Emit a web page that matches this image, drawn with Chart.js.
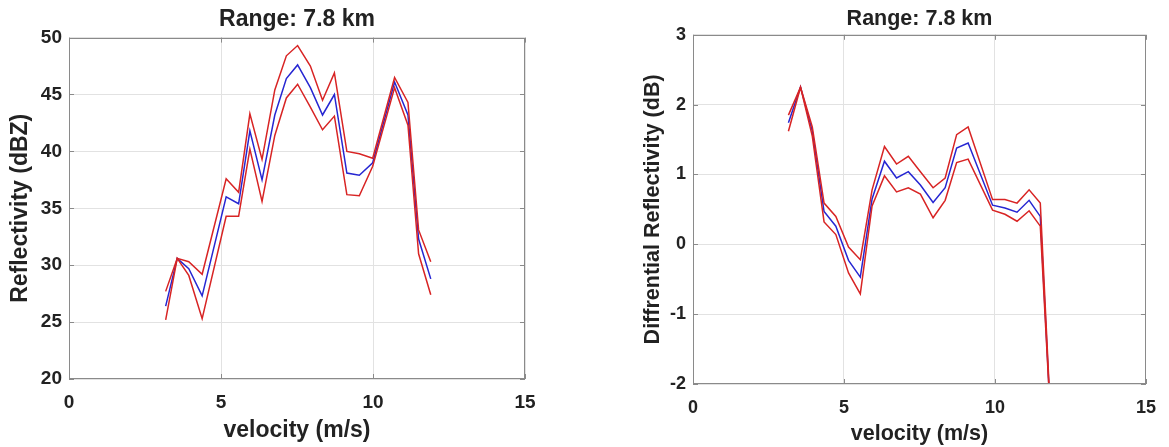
<!DOCTYPE html>
<html>
<head>
<meta charset="utf-8">
<script src="https://cdn.jsdelivr.net/npm/chart.js@4/dist/chart.umd.min.js"></script>
<style>
  body { margin: 0; background: #fff; }
  canvas { position: absolute; top: 0; }
</style>
</head>
<body>
<canvas id="zhChart" width="590" height="447" style="left:0"></canvas>
<canvas id="zdrChart" width="549" height="447" style="left:620px"></canvas>
<script>
const titleText = 'Range: 7.8 km';
const velocityTicks = [0, 5, 10, 15];

// reflectivity panel (left)
const zhVelocity = [3.18, 3.56, 3.94, 4.38, 5.17, 5.58, 5.95, 6.35, 6.77, 7.15, 7.52, 7.94, 8.34, 8.73, 9.14, 9.55, 9.99, 10.71, 11.15, 11.50, 11.90];
const zhUpper = [27.7, 30.6, 30.3, 29.2, 37.6, 36.4, 43.3, 39.3, 45.4, 48.4, 49.3, 47.5, 44.5, 46.9, 40.0, 39.8, 39.4, 46.5, 44.3, 33.1, 30.3];
const zhMean  = [26.4, 30.6, 29.7, 27.3, 36.0, 35.4, 41.8, 37.5, 43.2, 46.4, 47.6, 45.6, 43.2, 45.0, 38.1, 37.9, 39.0, 46.1, 43.2, 32.3, 28.8];
const zhLower = [25.2, 30.6, 29.1, 25.3, 34.3, 34.3, 40.2, 35.6, 41.4, 44.7, 45.9, 43.9, 41.9, 43.1, 36.2, 36.1, 38.7, 45.6, 42.3, 31.0, 27.4];

// differential reflectivity panel (right)
const zdrVelocity = [3.16, 3.56, 3.95, 4.34, 4.73, 5.15, 5.54, 5.93, 6.34, 6.74, 7.13, 7.53, 7.95, 8.35, 8.73, 9.11, 9.92, 10.33, 10.73, 11.13, 11.50, 11.90];
const zdrUpper = [1.85, 2.25, 1.68, 0.59, 0.40, -0.04, -0.22, 0.78, 1.40, 1.15, 1.26, 1.04, 0.81, 0.95, 1.57, 1.68, 0.64, 0.64, 0.59, 0.78, 0.59, -3.0];
const zdrMean  = [1.74, 2.25, 1.62, 0.47, 0.26, -0.23, -0.47, 0.65, 1.19, 0.95, 1.04, 0.85, 0.60, 0.81, 1.38, 1.45, 0.56, 0.52, 0.46, 0.63, 0.40, -3.0];
const zdrLower = [1.62, 2.25, 1.55, 0.32, 0.14, -0.41, -0.71, 0.55, 0.98, 0.75, 0.81, 0.72, 0.38, 0.63, 1.17, 1.22, 0.49, 0.43, 0.33, 0.48, 0.26, -3.0];

const RED = '#d82424';
const BLUE = '#2626d2';
const TEXT = '#222';
const FONT = 'Liberation Sans, Arial, sans-serif';

function pts(xs, ys) {
    return xs.map((x, i) => ({ x: x, y: ys[i] }));
}

// draws the full frame with short inward ticks, like a matlab box
const boxPlugin = {
    id: 'box',
    afterDatasetsDraw(chart) {
        const { ctx, chartArea: a, scales: { x, y } } = chart;
        ctx.save();
        ctx.strokeStyle = '#8a8a8a';
        ctx.lineWidth = 1;
        ctx.beginPath();
        x.ticks.forEach(t => {
            const px = Math.round(x.getPixelForValue(t.value)) + 0.5;
            ctx.moveTo(px, a.bottom); ctx.lineTo(px, a.bottom - 5);
            ctx.moveTo(px, a.top); ctx.lineTo(px, a.top + 5);
        });
        y.ticks.forEach(t => {
            const py = Math.round(y.getPixelForValue(t.value)) + 0.5;
            ctx.moveTo(a.left, py); ctx.lineTo(a.left + 5, py);
            ctx.moveTo(a.right, py); ctx.lineTo(a.right - 5, py);
        });
        ctx.stroke();
        ctx.strokeRect(Math.round(a.left) + 0.5, Math.round(a.top) + 0.5, Math.round(a.width) - 1, Math.round(a.height) - 1);
        ctx.restore();
    }
};

function createChart(id, cfg) {
    const line = (data, color) => ({
        data: data,
        borderColor: color,
        borderWidth: 1.5,
        pointRadius: 0,
        tension: 0,
        fill: false
    });
    new Chart(document.getElementById(id), {
        type: 'line',
        data: {
            datasets: [
                line(pts(cfg.vel, cfg.upper), RED),
                line(pts(cfg.vel, cfg.lower), RED),
                line(pts(cfg.vel, cfg.mean), BLUE)
            ]
        },
        options: {
            responsive: false,
            animation: false,
            layout: { padding: { left: 0, right: cfg.padRight, top: 0, bottom: 0 } },
            plugins: {
                legend: { display: false },
                tooltip: { enabled: false },
                title: {
                    display: true,
                    text: titleText,
                    fullSize: false,
                    color: TEXT,
                    font: { family: FONT, size: cfg.titleSize, weight: 'bold' },
                    padding: cfg.titlePad
                }
            },
            scales: {
                x: {
                    type: 'linear',
                    min: 0,
                    max: 15,
                    afterBuildTicks: s => { s.ticks = velocityTicks.map(v => ({ value: v })); },
                    afterFit: s => { s.height = cfg.xHeight; },
                    border: { display: false },
                    grid: { color: '#e2e2e2', drawTicks: false },
                    ticks: {
                        color: TEXT,
                        padding: cfg.xTickPad,
                        maxRotation: 0,
                        font: { family: FONT, size: cfg.tickSize, weight: 'bold' }
                    },
                    title: {
                        display: true,
                        text: 'velocity (m/s)',
                        color: TEXT,
                        font: { family: FONT, size: cfg.labelSize, weight: 'bold' },
                        padding: { top: 0, bottom: cfg.xTitlePad }
                    }
                },
                y: {
                    min: cfg.yMin,
                    max: cfg.yMax,
                    afterBuildTicks: s => { s.ticks = cfg.yTicks.map(v => ({ value: v })); },
                    afterFit: s => { s.width = cfg.yWidth; },
                    border: { display: false },
                    grid: { color: '#e2e2e2', drawTicks: false },
                    ticks: {
                        color: TEXT,
                        padding: 7,
                        font: { family: FONT, size: cfg.tickSize, weight: 'bold' }
                    },
                    title: {
                        display: true,
                        text: cfg.yLabel,
                        color: TEXT,
                        font: { family: FONT, size: cfg.labelSize, weight: 'bold' },
                        padding: { top: cfg.yTitlePad, bottom: 0 }
                    }
                }
            }
        },
        plugins: [boxPlugin]
    });
}

createChart('zhChart', {
    vel: zhVelocity, upper: zhUpper, mean: zhMean, lower: zhLower,
    yMin: 20, yMax: 50, yTicks: [20, 25, 30, 35, 40, 45, 50],
    yLabel: 'Reflectivity (dBZ)',
    padRight: 65, yWidth: 69, xHeight: 68,
    titleSize: 23, titlePad: { top: 6, bottom: 4 },
    tickSize: 19, labelSize: 23,
    xTickPad: 12, xTitlePad: 3, yTitlePad: 7
});

createChart('zdrChart', {
    vel: zdrVelocity, upper: zdrUpper, mean: zdrMean, lower: zdrLower,
    yMin: -2, yMax: 3, yTicks: [-2, -1, 0, 1, 2, 3],
    yLabel: 'Diffrential Reflectivity (dB)',
    padRight: 19, yWidth: 73, xHeight: 63,
    titleSize: 21.5, titlePad: { top: 6, bottom: 3 },
    tickSize: 18, labelSize: 21.5,
    xTickPad: 13, xTitlePad: 0, yTitlePad: 20
});
</script>
</body>
</html>
